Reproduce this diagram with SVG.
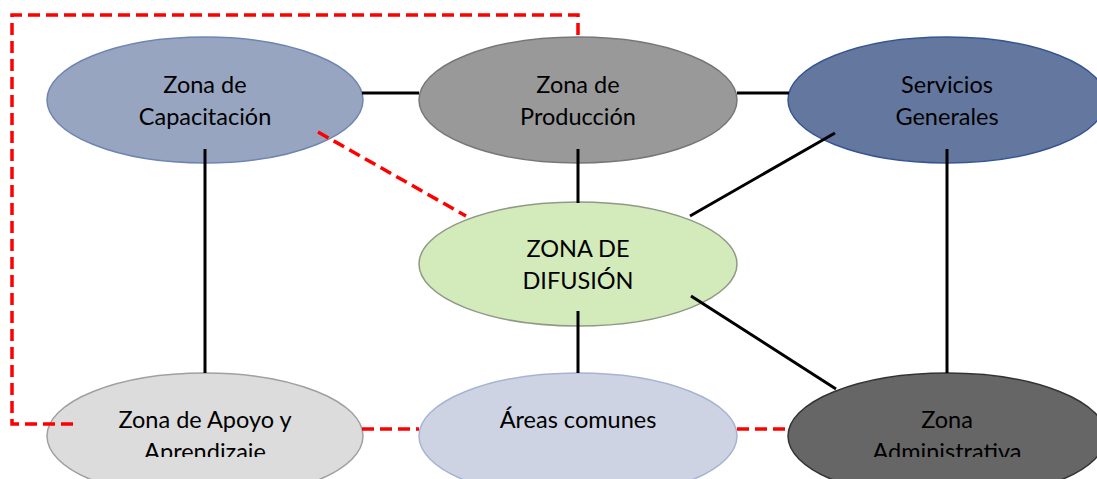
<svg xmlns="http://www.w3.org/2000/svg" width="1097" height="479" viewBox="0 0 1097 479">
<defs>
<style>
.t{font-family:Lato,"Open Sans","Liberation Sans",sans-serif;font-size:23.5px;fill:#000;text-anchor:middle}
.k{stroke:#000;stroke-width:3;fill:none}
.r{stroke:#ff0000;stroke-width:3.5;fill:none;stroke-dasharray:12 6}
</style>
<clipPath id="cb"><rect x="0" y="0" width="1097" height="457"/></clipPath>
</defs>
<rect width="1097" height="479" fill="#fff"/>
<g id="capacitacion">
<ellipse cx="205" cy="100" rx="158" ry="63" fill="#97a5c0" stroke="#6e85b3" stroke-width="1.5"/>
<text class="t" x="205" y="93">Zona de</text>
<text class="t" x="205" y="125">Capacitación</text>
</g>
<g id="produccion">
<ellipse cx="578" cy="100" rx="159" ry="63" fill="#999999" stroke="#777777" stroke-width="1.5"/>
<text class="t" x="578" y="93">Zona de</text>
<text class="t" x="578" y="125">Producción</text>
</g>
<g id="servicios">
<ellipse cx="947" cy="100" rx="159" ry="63" fill="#64789f" stroke="#365693" stroke-width="1.5"/>
<text class="t" x="947" y="93">Servicios</text>
<text class="t" x="947" y="125">Generales</text>
</g>
<g id="difusion">
<ellipse cx="578" cy="264" rx="159" ry="62" fill="#d3eabb" stroke="#8e9a86" stroke-width="1.5"/>
<text class="t" x="578" y="257">ZONA DE</text>
<text class="t" x="578" y="289">DIFUSIÓN</text>
</g>
<g id="apoyo">
<ellipse cx="205" cy="436" rx="158" ry="63" fill="#dcdcdc" stroke="#a0a0a0" stroke-width="1.5"/>
<g clip-path="url(#cb)">
<text class="t" x="205" y="428">Zona de Apoyo y</text>
<text class="t" x="205" y="460">Aprendizaje</text>
</g>
</g>
<g id="areas">
<ellipse cx="578" cy="436" rx="159" ry="63" fill="#cdd3e2" stroke="#a6b3d2" stroke-width="1.5"/>
<text class="t" x="578" y="428">Áreas comunes</text>
</g>
<g id="administrativa">
<ellipse cx="947" cy="436" rx="159" ry="63" fill="#666666" stroke="#333333" stroke-width="1.5"/>
<g clip-path="url(#cb)">
<text class="t" x="947" y="428">Zona</text>
<text class="t" x="947" y="460">Administrativa</text>
</g>
</g>
<g id="connectors">
<path class="k" d="M362 93H419M737 93H789M205 149V373M578 149V203M947 149V373M578 311V373M835 133L690 216M691 296L836 389"/>
<path class="r" d="M73 424H12V15H578V37"/>
<path class="r" d="M318 132L466 216"/>
<path class="r" d="M362 429H419M737 429H789"/>
</g>
</svg>
